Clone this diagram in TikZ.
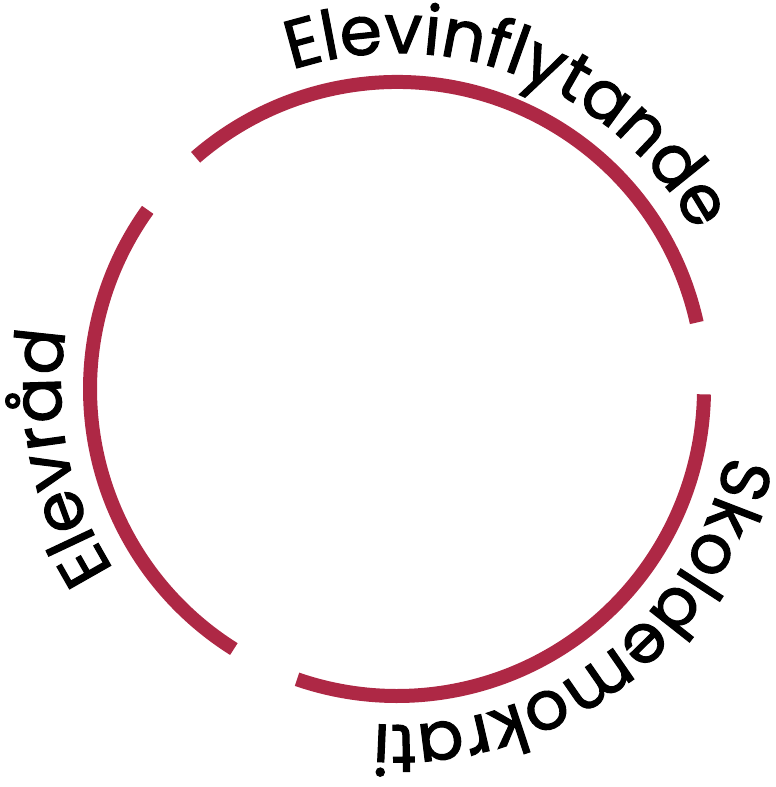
\documentclass[tikz,border=0pt]{standalone}
\usepackage{fontspec}
\setmainfont{Poppins}[FakeBold=1.6]
\usetikzlibrary{decorations.text}
\definecolor{ringred}{RGB}{174,40,69}
\tikzset{
  ringarc/.style={draw=ringred, line width=14pt, line cap=butt},
  ringtext/.style={decorate, decoration={text along path, text align=center, text color=black, text={|\fontsize{68}{68}\selectfont|#1}}}
}
\begin{document}
\begin{tikzpicture}[x=1pt,y=1pt]
\useasboundingbox (-397,-398) rectangle (379,389);
% ring segments
\draw[ringarc] (12.5:307) arc[start angle=12.5, end angle=131, radius=307];
\draw[ringarc] (144.3:307) arc[start angle=144.3, end angle=237.9, radius=307];
\draw[ringarc] (251:307) arc[start angle=251, end angle=359, radius=307];
% labels along the ring
\path[ringtext={Elevinflytande}] (140:336) arc[start angle=140, end angle=-4, radius=336];
\path[ringtext={Skoldemokrati}] (19.4:336) arc[start angle=19.4, end angle=-124.6, radius=336];
\path[ringtext={Elevråd}] (263.3:336) arc[start angle=263.3, end angle=119.3, radius=336];
\end{tikzpicture}
\end{document}
